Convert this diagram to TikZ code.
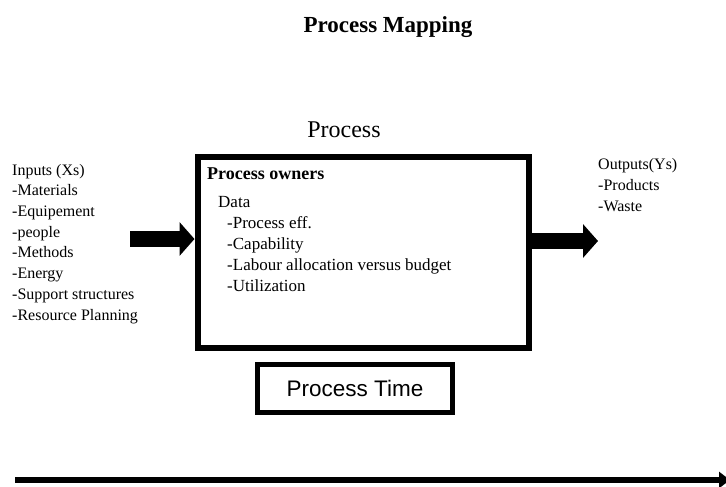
\documentclass[tikz,border=0pt]{standalone}
\usepackage{fontspec}
\setmainfont{Liberation Serif}
\newfontfamily\arialfont{Liberation Sans}
\usetikzlibrary{arrows.meta}
\begin{document}
\begin{tikzpicture}[x=1pt,y=-1pt,
  listtxt/.style={inner sep=0pt, anchor=base west, align=left, font=\fontsize{16}{20.7}\selectfont},
  boxtxt/.style={inner sep=0pt, anchor=base west, align=left, font=\fontsize{17}{20.7}\selectfont},
  fatarrow/.style={line width=16pt, -{Triangle[length=15pt,width=33pt]}},
  thickbox/.style={draw, line width=6pt, rectangle, inner sep=0pt}]
\useasboundingbox (0,0) rectangle (726,487);

\node[inner sep=0pt, anchor=base, font=\fontsize{23}{26}\selectfont\bfseries] (title) at (388,33) {Process Mapping};
\node[inner sep=0pt, anchor=base, font=\fontsize{24}{28}\selectfont] (proclabel) at (344,137) {Process};

\node[thickbox, minimum width=331.5pt, minimum height=191.5pt] (box) at (363.25,252.25) {};
\node[boxtxt, font=\fontsize{18}{22}\selectfont\bfseries] (owners) at (207,179) {Process owners};
\node[boxtxt] (data) at (218,207) {Data};
% base anchor of a multi-line node sits on its last line
\node[boxtxt] (datalist) at (227,291) {-Process eff.\\-Capability\\-Labour allocation versus budget\\-Utilization};

\node[listtxt] (inputs) at (12,320) {Inputs (Xs)\\-Materials\\-Equipement\\-people\\-Methods\\-Energy\\-Support structures\\-Resource Planning};
\node[listtxt] (outputs) at (598,211) {Outputs(Ys)\\-Products\\-Waste};

\node[draw, line width=5pt, minimum width=195pt, minimum height=48.5pt, inner sep=0pt, font=\arialfont\fontsize{22.5}{26}\selectfont] (ptime) at (355,388.25) {Process Time};

\coordinate (inStart) at (130,239);
\draw[fatarrow] (inStart) -- (inStart -| box.west);
\coordinate (outEnd) at (598,241);
\draw[fatarrow] (outEnd -| box.east) -- (outEnd);

\coordinate (tlStart) at (15,480);
\coordinate (tlEnd) at (730,480);
\draw[line width=6pt, -{Triangle[length=11pt,width=16pt]}] (tlStart) -- (tlEnd);
\end{tikzpicture}
\end{document}
